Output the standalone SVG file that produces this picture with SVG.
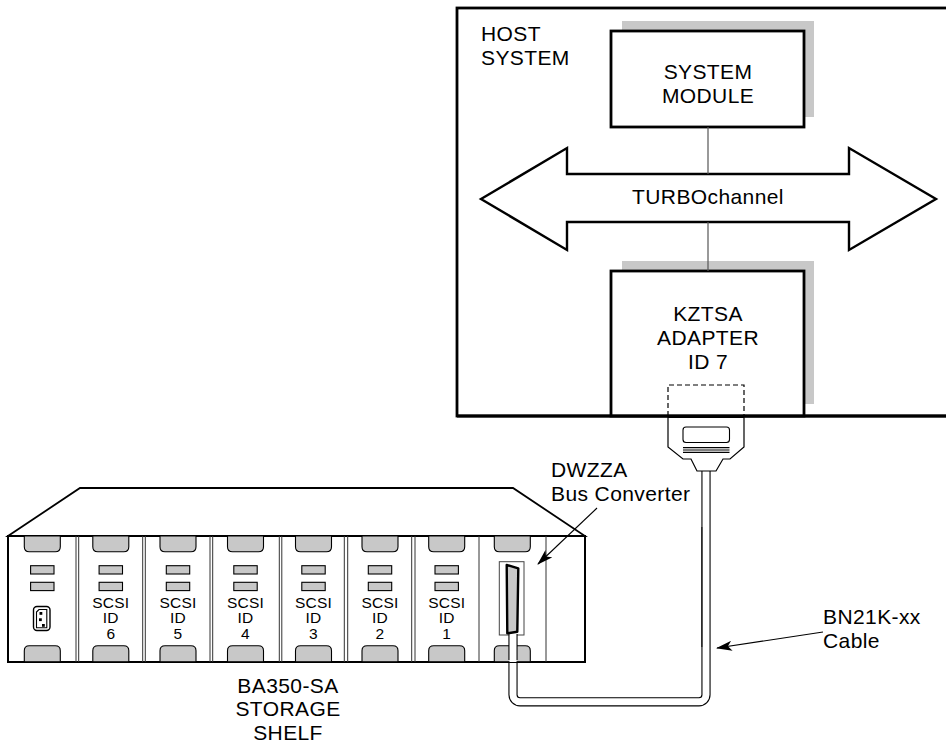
<svg xmlns="http://www.w3.org/2000/svg" width="946" height="748" viewBox="0 0 946 748">
<style>
text{font-family:"Liberation Sans",Arial,sans-serif;fill:#000}
.t{font-size:21px;letter-spacing:0.4px}
.s{font-size:15.5px;letter-spacing:0.2px}
.mid{text-anchor:middle}
.box{fill:#fff;stroke:#000;stroke-width:2.8}
.shadow{fill:#c8c8c8;stroke:none}
.thin{fill:none;stroke:#555;stroke-width:1.2}
.gray{fill:#c8c8c8;stroke:#000;stroke-width:1.1}
.sep{stroke:#333;stroke-width:1}
.ln{fill:none;stroke:#000;stroke-width:1.2}
</style>
<defs>
<marker id="ah" viewBox="0 0 16 10" refX="15" refY="5" markerWidth="16" markerHeight="10" markerUnits="userSpaceOnUse" orient="auto">
<path d="M0,0 L16,5 L0,10 L4,5 Z" fill="#000"/>
</marker>
<g id="topH"><path class="gray" d="M-18,536 V546.7 Q-18,551.7 -13,551.7 H13 Q18,551.7 18,546.7 V536 Z"/></g>
<g id="botH"><path class="gray" d="M-18,661.7 V650.7 Q-18,645.7 -13,645.7 H13 Q18,645.7 18,650.7 V661.7 Z"/></g>
<g id="ind"><rect class="gray" x="-11.7" y="565.7" width="23.4" height="8.3"/><rect class="gray" x="-11.7" y="582.3" width="23.4" height="8.3"/></g>
</defs>

<g id="host-system">
<rect x="457" y="8" width="500" height="408" fill="#fff" stroke="#000" stroke-width="2.8"/>
<text class="t" x="481" y="41">HOST</text>
<text class="t" x="481" y="64.5">SYSTEM</text>
</g>

<g id="system-module">
<rect class="shadow" x="622" y="21" width="192" height="96"/>
<rect class="box" x="611" y="31" width="193" height="96"/>
<text class="t mid" x="708" y="79">SYSTEM</text>
<text class="t mid" x="708" y="103">MODULE</text>
</g>

<g id="turbochannel">
<polygon points="481,199 567,148 567,174 849,174 849,148 936,199 849,250 849,222 567,222 567,250" fill="#fff" stroke="#000" stroke-width="2.4" stroke-linejoin="miter"/>
<text class="t mid" x="708" y="204">TURBOchannel</text>
</g>

<g id="kztsa-adapter">
<rect class="shadow" x="622" y="261" width="192" height="143"/>
<rect class="box" x="611" y="271" width="193" height="145"/>
<text class="t mid" x="708" y="321">KZTSA</text>
<text class="t mid" x="708" y="345">ADAPTER</text>
<text class="t mid" x="708" y="369">ID 7</text>
<path d="M668,416 V385 H744 V416" fill="none" stroke="#000" stroke-width="1.2" stroke-dasharray="5,3"/>
<line x1="457" y1="416" x2="946" y2="416" stroke="#000" stroke-width="2.8"/>
</g>

<g id="cable">
<path d="M513,634 V694.8 A7,7 0 0 0 520,701.8 H699 A7,7 0 0 0 706,694.8 V471" fill="none" stroke="#000" stroke-width="9.2"/>
<path d="M513,634 V694.8 A7,7 0 0 0 520,701.8 H699 A7,7 0 0 0 706,694.8 V471" fill="none" stroke="#fff" stroke-width="7"/>
<line x1="701.8" y1="527" x2="701.8" y2="647" stroke="#222" stroke-width="1.3"/>
</g>

<g id="host-connector">
<polygon style="fill:#fff;stroke:#000;stroke-width:1.2" points="668,417.5 668,447 683,459 691,459 697,471 716,471 723,459 730,459 744,447 744,417.5"/>
<rect x="683" y="427" width="46.5" height="15.5" rx="3" fill="none" stroke="#000" stroke-width="1.1"/>
<line class="ln" x1="683" y1="447.7" x2="729.5" y2="447.7"/>
<line class="ln" x1="683" y1="450" x2="729.5" y2="450"/>
<line class="ln" x1="683" y1="452.3" x2="729.5" y2="452.3"/>
</g>

<g id="storage-shelf">
<polygon points="8,536 80,488 513,488 585,536" fill="#fff" stroke="#000" stroke-width="1.8" stroke-linejoin="miter"/>
<rect x="8" y="536" width="577" height="126" fill="#fff" stroke="#000" stroke-width="2"/>
<g class="sep">
<line x1="76" y1="536" x2="76" y2="662"/><line x1="78.7" y1="536" x2="78.7" y2="662"/>
<line x1="142.7" y1="536" x2="142.7" y2="662"/><line x1="145.3" y1="536" x2="145.3" y2="662"/>
<line x1="210" y1="536" x2="210" y2="662"/><line x1="212.7" y1="536" x2="212.7" y2="662"/>
<line x1="279.3" y1="536" x2="279.3" y2="662"/><line x1="281.8" y1="536" x2="281.8" y2="662"/>
<line x1="344.3" y1="536" x2="344.3" y2="662"/><line x1="347.7" y1="536" x2="347.7" y2="662"/>
<line x1="411.7" y1="536" x2="411.7" y2="662"/><line x1="415" y1="536" x2="415" y2="662"/>
<line x1="479" y1="536" x2="479" y2="662"/>
<line x1="546" y1="536" x2="546" y2="662"/>
</g>
</g>

<g id="bay-power">
<use href="#topH" x="42.3"/><use href="#botH" x="42.3"/><use href="#ind" x="42.3"/>
<rect x="33.5" y="606.5" width="16.5" height="24" rx="3.5" fill="#fff" stroke="#000" stroke-width="1.4"/>
<path d="M36.5,612 L39,609.5 H46.8 V627.8 H36.5 Z" fill="none" stroke="#000" stroke-width="1.1"/>
<rect x="39.5" y="612" width="2.8" height="2.8" fill="#000"/>
<rect x="39" y="618.3" width="2.8" height="2.8" fill="#000"/>
<rect x="42" y="624" width="2.8" height="2.8" fill="#000"/>
</g>

<g id="bay-scsi6">
<use href="#topH" x="110.8"/><use href="#botH" x="110.8"/><use href="#ind" x="110.8"/>
<text class="s mid" x="110.8" y="607.7">SCSI</text><text class="s mid" x="110.8" y="623">ID</text><text class="s mid" x="110.8" y="639">6</text>
</g>
<g id="bay-scsi5">
<use href="#topH" x="178"/><use href="#botH" x="178"/><use href="#ind" x="178"/>
<text class="s mid" x="178" y="607.7">SCSI</text><text class="s mid" x="178" y="623">ID</text><text class="s mid" x="178" y="639">5</text>
</g>
<g id="bay-scsi4">
<use href="#topH" x="245.5"/><use href="#botH" x="245.5"/><use href="#ind" x="245.5"/>
<text class="s mid" x="245.5" y="607.7">SCSI</text><text class="s mid" x="245.5" y="623">ID</text><text class="s mid" x="245.5" y="639">4</text>
</g>
<g id="bay-scsi3">
<use href="#topH" x="313.5"/><use href="#botH" x="313.5"/><use href="#ind" x="313.5"/>
<text class="s mid" x="313.5" y="607.7">SCSI</text><text class="s mid" x="313.5" y="623">ID</text><text class="s mid" x="313.5" y="639">3</text>
</g>
<g id="bay-scsi2">
<use href="#topH" x="380"/><use href="#botH" x="380"/><use href="#ind" x="380"/>
<text class="s mid" x="380" y="607.7">SCSI</text><text class="s mid" x="380" y="623">ID</text><text class="s mid" x="380" y="639">2</text>
</g>
<g id="bay-scsi1">
<use href="#topH" x="446.7"/><use href="#botH" x="446.7"/><use href="#ind" x="446.7"/>
<text class="s mid" x="446.7" y="607.7">SCSI</text><text class="s mid" x="446.7" y="623">ID</text><text class="s mid" x="446.7" y="639">1</text>
</g>
<g id="bay-dwzza">
<use href="#topH" x="512.3"/><use href="#botH" x="512.3"/>
<rect x="499.3" y="561.7" width="24.7" height="73.3" fill="#fff" stroke="#444" stroke-width="1"/>
<path d="M513,634 V660" fill="none" stroke="#000" stroke-width="9.2"/>
<path d="M513,633 V662" fill="none" stroke="#fff" stroke-width="7"/>
<polygon points="506.7,565 518.3,568.3 517.3,631.7 507.3,633.3" fill="#c8c8c8" stroke="#000" stroke-width="2.4" stroke-linejoin="round"/>
</g>

<g id="labels">
<text class="t" x="551" y="477">DWZZA</text>
<text class="t" x="551" y="501">Bus Converter</text>
<text class="t" x="823" y="624">BN21K-xx</text>
<text class="t" x="823" y="648">Cable</text>
<text class="t mid" x="288" y="693">BA350-SA</text>
<text class="t mid" x="288" y="716">STORAGE</text>
<text class="t mid" x="288" y="740">SHELF</text>
</g>

<g id="connectors">
<line class="thin" x1="708" y1="127" x2="708" y2="174"/>
<line class="thin" x1="708" y1="222" x2="708" y2="271"/>
<line x1="597" y1="508" x2="538" y2="564" stroke="#000" stroke-width="1.1" marker-end="url(#ah)"/>
<line x1="823" y1="632" x2="717" y2="648" stroke="#000" stroke-width="1.1" marker-end="url(#ah)"/>
</g>
</svg>
